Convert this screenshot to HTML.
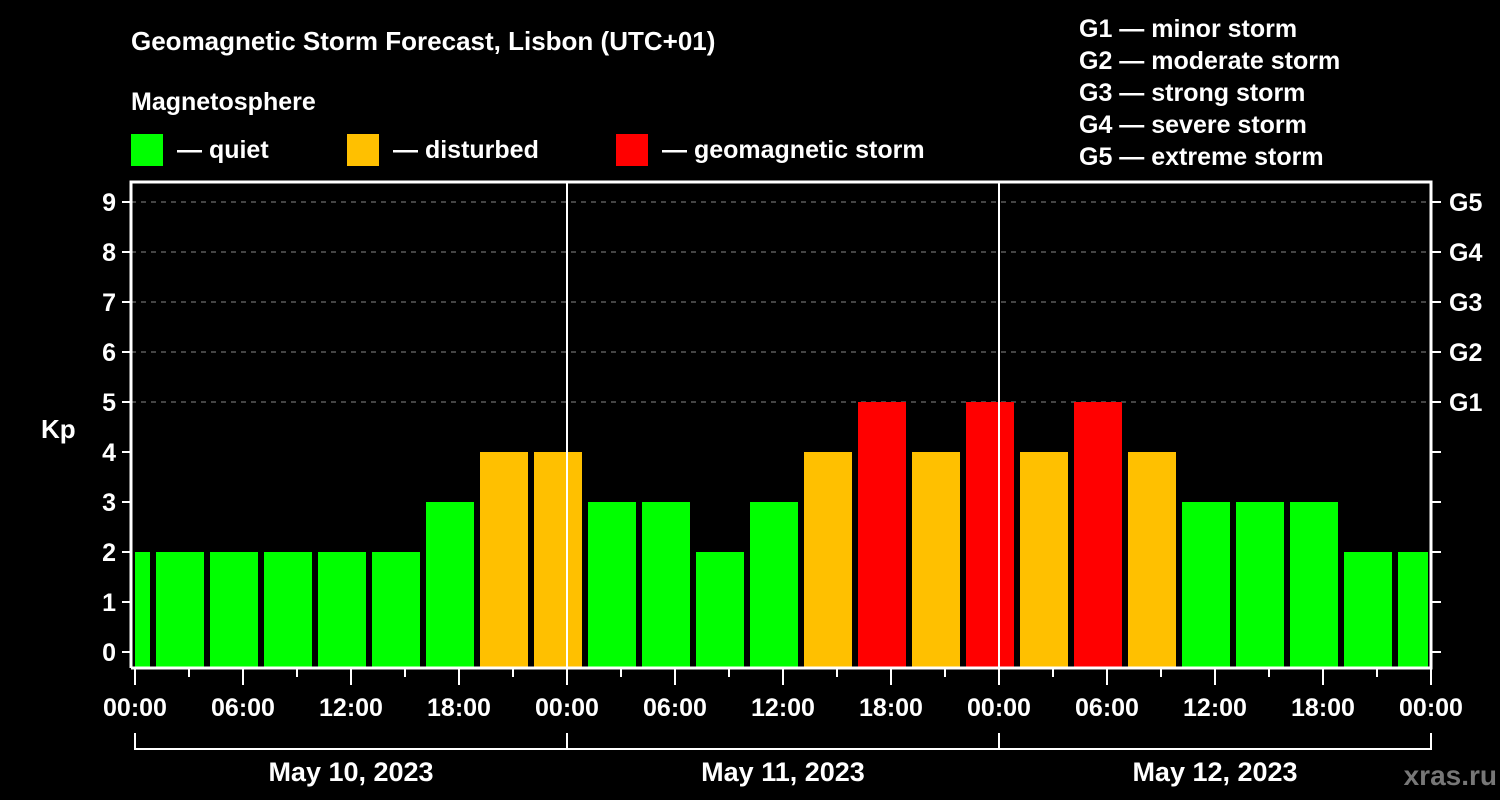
<!DOCTYPE html>
<html><head><meta charset="utf-8"><style>
html,body{margin:0;padding:0;background:#000;}
svg{display:block;font-family:"Liberation Sans",Arial,sans-serif;font-weight:bold;}
</style></head><body>
<svg id="c" width="1500" height="800" viewBox="0 0 1500 800">
<rect width="1500" height="800" fill="#000"/>
<text x="131" y="50" fill="#fff" font-size="26">Geomagnetic Storm Forecast, Lisbon (UTC+01)</text>
<text x="131" y="110" fill="#fff" font-size="25">Magnetosphere</text>
<g><rect x="131" y="134" width="32" height="32" fill="#00ff00"/><text x="177" y="158" fill="#fff" font-size="25">— quiet</text></g>
<g><rect x="347" y="134" width="32" height="32" fill="#ffc000"/><text x="393" y="158" fill="#fff" font-size="25">— disturbed</text></g>
<g><rect x="616" y="134" width="32" height="32" fill="#ff0000"/><text x="662" y="158" fill="#fff" font-size="25">— geomagnetic storm</text></g>
<g fill="#fff" font-size="25">
<text x="1079" y="37">G1 — minor storm</text>
<text x="1079" y="69">G2 — moderate storm</text>
<text x="1079" y="101">G3 — strong storm</text>
<text x="1079" y="133">G4 — severe storm</text>
<text x="1079" y="165">G5 — extreme storm</text>
</g>
<text x="41" y="438" fill="#fff" font-size="26">Kp</text>
<text x="1497" y="785" fill="#777" font-size="28" text-anchor="end">xras.ru</text>
<g id="plot"></g>
</svg>
<script>
const kpValues=[2,2,2,2,2,2,3,4,4,3,3,2,3,4,5,4,5,4,5,4,3,3,3,2,2];
const yTicks=[0,1,2,3,4,5,6,7,8,9];
const gLabels=["G1","G2","G3","G4","G5"];
const xTickLabels=["00:00","06:00","12:00","18:00","00:00","06:00","12:00","18:00","00:00","06:00","12:00","18:00","00:00"];
const dayLabels=["May 10, 2023","May 11, 2023","May 12, 2023"];
const firstBarStartHour=-2;
const L=131,R=1431,T=182,B=668;
const x=h=>135+18*h;
const y=v=>652-50*v;
const g=document.getElementById('plot');
const NS='http://www.w3.org/2000/svg';
function mk(t,a,p){const e=document.createElementNS(NS,t);for(const k in a)e.setAttribute(k,a[k]);(p||g).appendChild(e);return e;}
function col(v){return v>=5?'#ff0000':v>=4?'#ffc000':'#00ff00';}
// grid
yTicks.forEach(v=>{if(v>=5){const l=mk('line',{x1:L,x2:R,y1:y(v),y2:y(v),stroke:'#888','stroke-width':1,'stroke-dasharray':'5,5'});

}});
// bars
kpValues.forEach((v,i)=>{let x0=x(firstBarStartHour+3*i)+3,x1=x(firstBarStartHour+3*i+3)-3;x0=Math.max(x0,135);x1=Math.min(x1,1428);
const r=mk('rect',{x:x0,y:y(v),width:x1-x0,height:B-y(v),fill:col(v)});

});
// day separators
[24,48].forEach(h=>{const l=mk('line',{x1:x(h),x2:x(h),y1:T,y2:B,stroke:'#fff','stroke-width':2});

});
// frame
const f=mk('path',{d:`M${L} ${B}V${T}H${R}V${B}H${L}`,stroke:'#fff','stroke-width':3,fill:'none'});


// y ticks
yTicks.forEach(v=>{mk('line',{x1:122,x2:L,y1:y(v),y2:y(v),stroke:'#fff','stroke-width':2});
mk('line',{x1:R,x2:1441,y1:y(v),y2:y(v),stroke:'#fff','stroke-width':2});
const t=mk('text',{x:116,y:y(v)+9,fill:'#fff','font-size':25,'text-anchor':'end'});t.textContent=v;

});
gLabels.forEach((s,i)=>{const t=mk('text',{x:1449,y:y(5+i)+9,fill:'#fff','font-size':25});t.textContent=s;

});
// x ticks
for(let h=0;h<=72;h+=3){const major=h%6===0;mk('line',{x1:x(h),x2:x(h),y1:B,y2:major?685:677,stroke:'#fff','stroke-width':2});}
xTickLabels.forEach((s,i)=>{const t=mk('text',{x:x(6*i),y:716,fill:'#fff','font-size':25,'text-anchor':'middle'});t.textContent=s;

});
// day brackets
const br=mk('path',{d:`M${x(0)} 733V749H${x(72)}V733M${x(24)} 733V749M${x(48)} 733V749`,stroke:'#fff','stroke-width':2,fill:'none'});


dayLabels.forEach((s,i)=>{const t=mk('text',{x:x(24*i+12),y:781,fill:'#fff','font-size':27,'text-anchor':'middle'});t.textContent=s;

});
</script>
</body></html>
